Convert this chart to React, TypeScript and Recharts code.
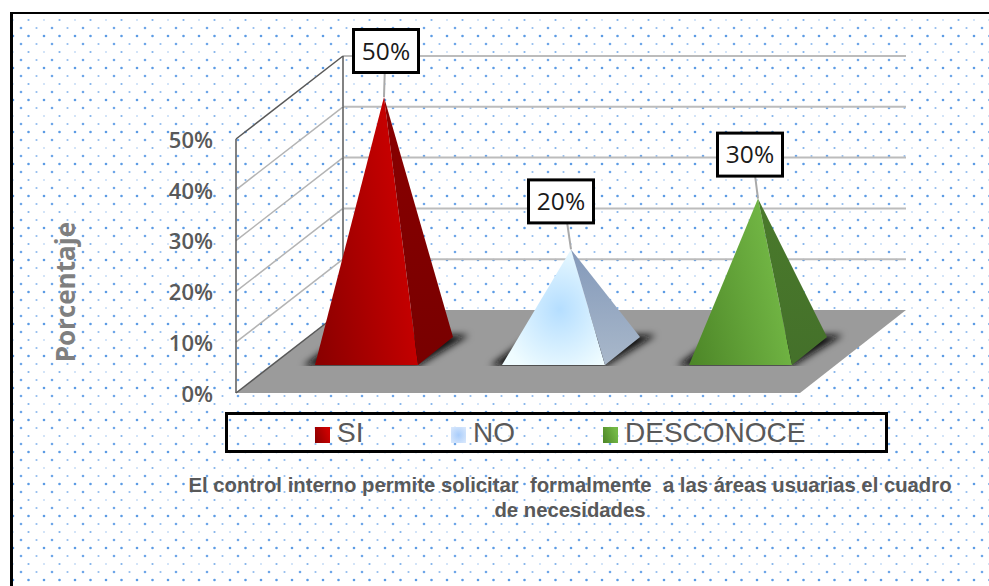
import React from 'react'
import { Bar, BarChart, CartesianGrid, Cell, LabelList, Legend, XAxis, YAxis } from 'recharts'

const categories = ['SI', 'NO', 'DESCONOCE']
const percentages = [50, 20, 30]
const yTicks = [0, 10, 20, 30, 40, 50]

const data = categories.map((name, i) => ({ name, value: percentages[i] }))

// plot box of the front plane
const PLOT_LEFT = 236
const PLOT_RIGHT = 797
const PLOT_TOP = 139
const PLOT_BOTTOM = 393
const ROW_STEP = (PLOT_BOTTOM - PLOT_TOP) / (yTicks.length - 1)
const LEGEND_HEIGHT = 41

// how far the back wall is pushed away from the front plane
const WALL_DX = 107
const WALL_DY = 83
const WALL_RIGHT = 906
const FLOOR_RIGHT = 800

// pyramid footprint, relative to the bar box
const BASE_SHIFT_X = 37
const BASE_SHIFT_Y = 28
const DEPTH_X = 35
const DEPTH_Y = 28
const APEX_RISE = 42

const faces = [
  { front: 'url(#frontRed)', side: 'url(#sideRed)' },
  { front: 'url(#frontBlue)', side: 'url(#sideBlue)' },
  { front: 'url(#frontGreen)', side: 'url(#sideGreen)' },
]
const labelShift = [
  { x: 2, y: -46 },
  { x: -10, y: -48 },
  { x: -8, y: -44 },
]

const dots = `<svg xmlns='http://www.w3.org/2000/svg' width='31' height='32'>
<g fill='#4a90e2'>
<circle cx='0' cy='0' r='.8' opacity='.55'/><circle cx='31' cy='0' r='.8' opacity='.55'/>
<circle cx='15.5' cy='0' r='1.1' opacity='.7'/>
<circle cx='8' cy='8' r='1.3' opacity='.8'/><circle cx='23.5' cy='8' r='1.1' opacity='.6'/>
<circle cx='0' cy='16' r='1.3' opacity='.9'/><circle cx='31' cy='16' r='1.3' opacity='.9'/>
<circle cx='15.5' cy='16' r='1.3' opacity='.9'/>
<circle cx='8' cy='24' r='1.3' opacity='.8'/><circle cx='23.5' cy='24' r='1.1' opacity='.6'/>
</g></svg>`

function WallRow(props: any) {
  const { x1, y1 } = props
  const bx = x1 + WALL_DX
  const by = y1 - WALL_DY
  const isFloor = Math.abs(y1 - PLOT_BOTTOM) < 1
  const isTop = Math.abs(y1 - PLOT_TOP) < 1
  if (isFloor) {
    return (
      <g>
        <polygon
          points={`${x1},${y1} ${bx},${by} ${WALL_RIGHT},${by} ${FLOOR_RIGHT},${y1}`}
          fill="#9b9b9b"
        />
        <line x1={x1} y1={y1} x2={bx} y2={by} stroke="#595959" strokeWidth={1.5} />
      </g>
    )
  }
  return (
    <g>
      <line x1={bx} y1={by} x2={WALL_RIGHT} y2={by} stroke="#bcbcbc" strokeWidth={2} />
      <line
        x1={x1}
        y1={y1}
        x2={bx}
        y2={by}
        stroke={isTop ? '#595959' : '#b4b4b4'}
        strokeWidth={1.5}
      />
      <line x1={bx} y1={by} x2={bx} y2={by + ROW_STEP} stroke="#595959" strokeWidth={1.5} />
    </g>
  )
}

function Pyramid(props: any) {
  const { x, y, width, height, index } = props
  const left = x + BASE_SHIFT_X
  const right = left + width
  const baseY = y + height - BASE_SHIFT_Y
  const backX = right + DEPTH_X
  const backY = baseY - DEPTH_Y
  const apexX = left + width / 2 + DEPTH_X / 2
  const apexY = y - APEX_RISE
  const face = faces[index]
  return (
    <g>
      <clipPath id={`floorClip${index}`}>
        <rect x={left - 40} y={backY - 40} width={width + 120} height={baseY - backY + 41} />
      </clipPath>
      <g clipPath={`url(#floorClip${index})`}>
        <polygon
          points={`${left - 12},${baseY + 1} ${right},${baseY + 1} ${backX + 16},${backY - 2} ${left + 30},${backY - 2}`}
          fill="#111"
          filter="url(#baseShadow)"
        />
      </g>
      <polygon points={`${left},${baseY} ${right},${baseY} ${apexX},${apexY}`} fill={face.front} />
      <polygon points={`${right},${baseY} ${backX},${backY} ${apexX},${apexY}`} fill={face.side} />
    </g>
  )
}

function PercentTag(props: any) {
  const { x, y, width, value, index } = props
  const apexX = x + BASE_SHIFT_X + width / 2 + DEPTH_X / 2
  const apexY = y - APEX_RISE
  const cx = apexX + labelShift[index].x
  const cy = apexY + labelShift[index].y
  return (
    <g>
      <line x1={cx + (apexX - cx) * 0.3} y1={cy} x2={apexX} y2={apexY} stroke="#a9a9a9" strokeWidth={2} />
      <rect x={cx - 32.5} y={cy - 21.5} width={65} height={43} fill="#fff" stroke="#000" strokeWidth={3} />
      <text
        x={cx}
        y={cy + 8.5}
        textAnchor="middle"
        fontFamily="'Open Sans', sans-serif"
        fontSize={24.5}
        fill="#1a1a1a"
      >
        {value}%
      </text>
    </g>
  )
}

function LegendBox() {
  const swatches = ['url(#frontRed)', 'url(#legendBlue)', 'url(#frontGreen)']
  const lefts = [87, 223, 375]
  return (
    <div
      style={{
        position: 'relative',
        boxSizing: 'border-box',
        width: 663,
        height: LEGEND_HEIGHT,
        border: '3px solid #000',
        fontFamily: "'Liberation Sans', sans-serif",
        fontSize: 28,
        lineHeight: '36px',
        color: '#595959',
      }}
    >
      {categories.map((name, i) => (
        <span key={name} style={{ position: 'absolute', left: lefts[i], top: 0, whiteSpace: 'nowrap' }}>
          <svg width={15} height={16} style={{ marginRight: 7, verticalAlign: -1 }}>
            <rect width={15} height={16} fill={swatches[i]} />
          </svg>
          {name}
        </span>
      ))}
    </div>
  )
}

export default function App() {
  return (
    <div style={{ position: 'fixed', left: 0, top: 0, width: 989, height: 586, background: '#fff', overflow: 'hidden' }}>
      <div
        style={{
          position: 'absolute',
          left: 10,
          top: 12,
          width: 979,
          height: 574,
          boxSizing: 'border-box',
          borderLeft: '3px solid #000',
          borderTop: '2.5px solid #000',
          backgroundImage: `url("data:image/svg+xml,${encodeURIComponent(dots)}")`,
          backgroundPosition: '0px 5.5px',
        }}
      />
      <div style={{ position: 'absolute', left: 0, top: 0 }}>
        <BarChart
          width={989}
          height={586}
          data={data}
          barSize={103}
          margin={{
            left: PLOT_LEFT - 60,
            right: 989 - PLOT_RIGHT,
            top: PLOT_TOP,
            bottom: 586 - PLOT_BOTTOM - LEGEND_HEIGHT,
          }}
        >
          <defs>
            <linearGradient id="frontRed" x1="0" y1="1" x2="1" y2="0.6">
              <stop offset="0" stopColor="#880000" />
              <stop offset="1" stopColor="#cc0000" />
            </linearGradient>
            <linearGradient id="sideRed" x1="0" y1="0" x2="0" y2="1">
              <stop offset="0" stopColor="#8a0000" />
              <stop offset="1" stopColor="#780000" />
            </linearGradient>
            <radialGradient id="frontBlue" cx="0.56" cy="0.52" r="0.6">
              <stop offset="0" stopColor="#b5deff" />
              <stop offset="1" stopColor="#effcff" />
            </radialGradient>
            <radialGradient id="legendBlue" cx="0.5" cy="0.5" r="0.7">
              <stop offset="0" stopColor="#a9cdfb" />
              <stop offset="1" stopColor="#dbe9fc" />
            </radialGradient>
            <linearGradient id="sideBlue" x1="0" y1="0" x2="0" y2="1">
              <stop offset="0" stopColor="#8399ba" />
              <stop offset="1" stopColor="#a9b8ca" />
            </linearGradient>
            <linearGradient id="frontGreen" x1="0" y1="1" x2="1" y2="0.6">
              <stop offset="0" stopColor="#4c8527" />
              <stop offset="1" stopColor="#74b946" />
            </linearGradient>
            <linearGradient id="sideGreen" x1="0" y1="0" x2="0" y2="1">
              <stop offset="0" stopColor="#4a7a2b" />
              <stop offset="1" stopColor="#44702a" />
            </linearGradient>
            <filter id="baseShadow" x="-20%" y="-40%" width="140%" height="180%">
              <feGaussianBlur stdDeviation="3.5" />
            </filter>
          </defs>
          <CartesianGrid vertical={false} horizontal={(p: any) => <WallRow key={p.key} {...p} />} />
          <XAxis dataKey="name" hide />
          <YAxis
            width={60}
            domain={[0, 50]}
            ticks={yTicks}
            tickFormatter={(v: number) => `${v}%`}
            tickSize={0}
            tickMargin={23}
            axisLine={{ stroke: '#595959', strokeWidth: 1.5 }}
            tick={{ fill: '#595959', fontFamily: "'Open Sans', sans-serif", fontSize: 22, fontWeight: 600, dy: 1 }}
            label={{
              value: 'Porcentaje',
              angle: -90,
              position: 'left',
              offset: 110,
              dy: -44,
              fill: '#7f7f7f',
              fontFamily: "'Open Sans', sans-serif",
              fontSize: 26,
              fontWeight: 700,
            }}
          />
          <Bar dataKey="value" isAnimationActive={false} shape={<Pyramid />}>
            {data.map((d) => (
              <Cell key={d.name} />
            ))}
            <LabelList dataKey="value" content={<PercentTag />} />
          </Bar>
          <Legend content={<LegendBox />} wrapperStyle={{ left: 225, top: 412, width: 663, height: LEGEND_HEIGHT }} />
        </BarChart>
      </div>
      <div
        style={{
          position: 'absolute',
          left: 170,
          top: 473,
          width: 800,
          textAlign: 'center',
          fontFamily: "'Liberation Sans', sans-serif",
          fontWeight: 700,
          fontSize: 20.3,
          lineHeight: '25px',
          color: '#595959',
          whiteSpace: 'pre',
        }}
      >
        {'El control interno permite solicitar  formalmente  a las áreas usuarias el cuadro\nde necesidades'}
      </div>
    </div>
  )
}
